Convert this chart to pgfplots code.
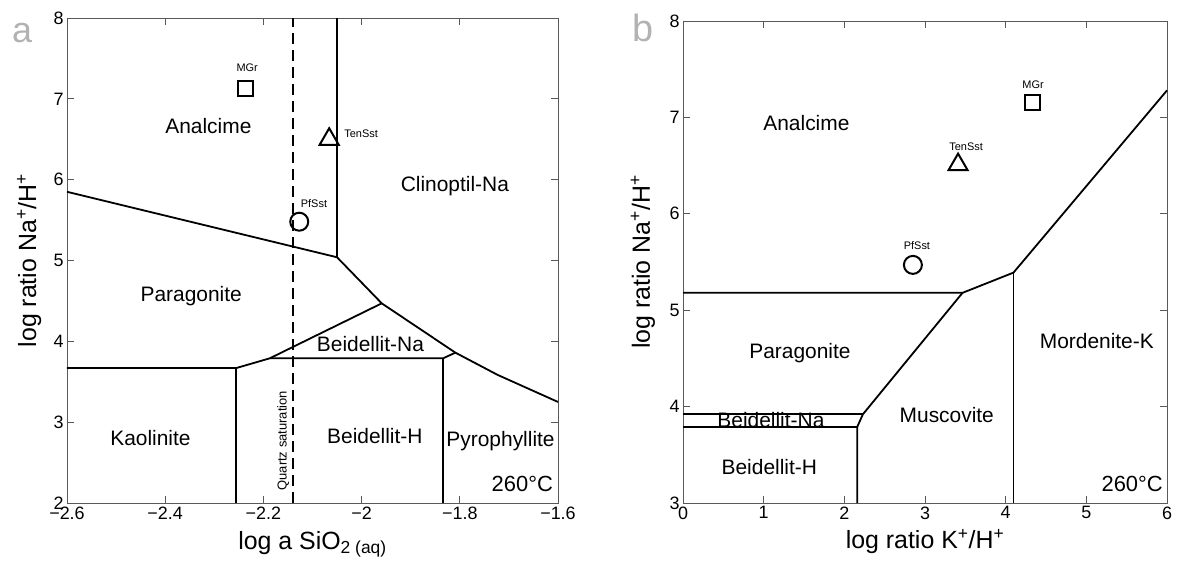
\documentclass[border=0pt]{standalone}
\usepackage{pgfplots}
\pgfplotsset{compat=1.18}
\usepackage{fontspec}
\setmainfont{Liberation Sans}

\pgfplotsset{
  phase/.style={
    scale only axis,
    clip=false,
    axis line style={gray!70!black, line width=0.9bp},
    tick style={gray!70!black, line width=0.8bp},
    major tick length=7bp,
    tick label style={font=\fontsize{18}{20}\selectfont},
    label style={font=\fontsize{25}{28}\selectfont},
    /pgf/number format/assume math mode=true,
  },
  bound/.style={black, line width=1.8bp},
}
\tikzset{
  region/.style={font=\fontsize{21}{23}\selectfont},
  sample/.style={font=\fontsize{11}{12}\selectfont},
}

\begin{document}
\begin{tikzpicture}
\path[use as bounding box] (-67bp,-60bp) rectangle (1110bp,503bp);

% panel a
\begin{axis}[phase,
  at={(0,0)}, anchor=south west,
  width=491bp, height=485bp,
  xmin=-2.6, xmax=-1.6, ymin=2, ymax=8,
  xtick={-2.6,-2.4,-2.2,-2,-1.8,-1.6},
  xticklabels={−2.6,−2.4,−2.2,−2,−1.8,−1.6},
  ytick={2,3,4,5,6,7,8},
  xlabel={log a SiO\textsubscript{2 (aq)}},
  ylabel={log ratio Na\textsuperscript{+}/H\textsuperscript{+}},
  xlabel style={at={(axis description cs:0.5,-0.095)}, anchor=base},
  ylabel style={at={(axis description cs:-0.077,0.5)}, anchor=center},
]
\addplot[bound] coordinates {(-2.6,5.85) (-2.05,5.04) (-1.959,4.47) (-1.809,3.86) (-1.723,3.585) (-1.6,3.25)};
\addplot[bound] coordinates {(-2.05,8) (-2.05,5.04)};
\addplot[bound] coordinates {(-1.959,4.47) (-2.187,3.79) (-2.255,3.67) (-2.6,3.67)};
\addplot[bound] coordinates {(-2.255,2) (-2.255,3.67)};
\addplot[bound] coordinates {(-2.187,3.79) (-1.834,3.79) (-1.809,3.86)};
\addplot[bound] coordinates {(-1.834,2) (-1.834,3.79)};
\addplot[black, line width=1.8bp, dash pattern=on 11bp off 6bp] coordinates {(-2.14,2) (-2.14,8)};

\addplot[only marks, mark=square, mark size=7.5bp, line width=2bp] coordinates {(-2.237,7.13)};
\addplot[only marks, mark=triangle, mark size=11bp, line width=2bp] coordinates {(-2.066,6.50)};
\addplot[only marks, mark=o, mark size=9bp, line width=2bp] coordinates {(-2.127,5.48)};

\node[sample] at (axis cs:-2.233,7.38) {MGr};
\node[sample] at (axis cs:-2.001,6.565) {TenSst};
\node[sample] at (axis cs:-2.097,5.71) {PfSst};

\node[region] at (axis cs:-2.312,6.66) {Analcime};
\node[region] at (axis cs:-1.81,5.92) {Clinoptil-Na};
\node[region] at (axis cs:-2.347,4.56) {Paragonite};
\node[region] at (axis cs:-1.982,3.97) {Beidellit-Na};
\node[region] at (axis cs:-2.43,2.80) {Kaolinite};
\node[region] at (axis cs:-1.973,2.83) {Beidellit-H};
\node[region] at (axis cs:-1.717,2.77) {Pyrophyllite};
\node[font=\fontsize{22}{24}\selectfont, anchor=east, inner sep=0pt] at (axis cs:-1.61,2.235) {260°C};
\node[rotate=90, font=\fontsize{13}{14}\selectfont] at (axis cs:-2.16,2.77) {Quartz saturation};
\end{axis}
\node[text=gray!60, font=\fontsize{36}{38}\selectfont] at (-45bp,470bp) {a};

% panel b
\begin{axis}[phase,
  at={(616bp,0)}, anchor=south west,
  width=484bp, height=482bp,
  xmin=0, xmax=6, ymin=3, ymax=8,
  xtick={0,1,2,3,4,5,6},
  ytick={3,4,5,6,7,8},
  xlabel={log ratio K\textsuperscript{+}/H\textsuperscript{+}},
  ylabel={log ratio Na\textsuperscript{+}/H\textsuperscript{+}},
  xlabel style={at={(axis description cs:0.5,-0.095)}, anchor=base},
  ylabel style={at={(axis description cs:-0.083,0.5)}, anchor=center},
]
\addplot[bound] coordinates {(0,5.18) (3.465,5.18) (4.097,5.39) (6,7.28)};
\addplot[bound] coordinates {(4.097,3) (4.097,5.39)};
\addplot[bound] coordinates {(3.465,5.18) (2.23,3.92) (2.16,3.79) (2.16,3)};
\addplot[bound] coordinates {(0,3.92) (2.23,3.92)};
\addplot[bound] coordinates {(0,3.79) (2.16,3.79)};

\addplot[only marks, mark=square, mark size=7.5bp, line width=2bp] coordinates {(4.33,7.15)};
\addplot[only marks, mark=triangle, mark size=11bp, line width=2bp] coordinates {(3.41,6.51)};
\addplot[only marks, mark=o, mark size=9bp, line width=2bp] coordinates {(2.85,5.47)};

\node[sample] at (axis cs:4.34,7.34) {MGr};
\node[sample] at (axis cs:3.51,6.70) {TenSst};
\node[sample] at (axis cs:2.90,5.67) {PfSst};

\node[region] at (axis cs:1.53,6.94) {Analcime};
\node[region] at (axis cs:1.45,4.56) {Paragonite};
\node[region] at (axis cs:5.13,4.68) {Mordenite-K};
\node[region] at (axis cs:1.09,3.86) {Beidellit-Na};
\node[region] at (axis cs:3.27,3.91) {Muscovite};
\node[region] at (axis cs:1.07,3.37) {Beidellit-H};
\node[font=\fontsize{22}{24}\selectfont, anchor=east, inner sep=0pt] at (axis cs:5.95,3.2) {260°C};
\end{axis}
\node[text=gray!60, font=\fontsize{38}{40}\selectfont] at (576bp,475bp) {b};
\end{tikzpicture}
\end{document}
